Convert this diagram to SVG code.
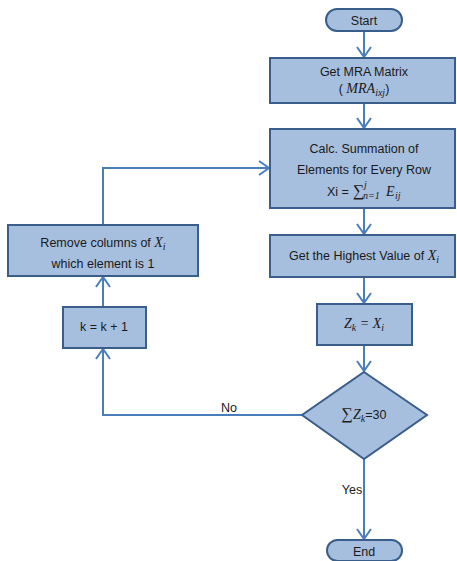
<svg xmlns="http://www.w3.org/2000/svg" width="457" height="561" viewBox="0 0 457 561">
<style>
.n{fill:#A7BFDE;stroke:#3A5E8C;stroke-width:2}
.c{fill:none;stroke:#4A7EBB;stroke-width:2}
text{font-family:"Liberation Sans",Arial,sans-serif;font-size:12.5px;fill:#1a1a1a;text-anchor:middle}
.l{text-anchor:start}
.m{font-family:"Liberation Serif","Times New Roman",serif;font-style:italic;font-size:14px}
.s{font-family:"Liberation Serif","Times New Roman",serif;font-style:italic;font-size:10px}
.r{font-family:"Liberation Serif","Times New Roman",serif;font-size:16px}
</style>
<defs>
<marker id="a" markerUnits="userSpaceOnUse" orient="auto" refX="0" refY="0" markerWidth="20" markerHeight="20" viewBox="-12 -10 14 20" overflow="visible">
<path d="M-10,-7 L0,0 L-10,7" fill="none" stroke="#4A7EBB" stroke-width="2"/>
</marker>
</defs>
<g id="connectors">
<path class="c" d="M364,31 V57" marker-end="url(#a)"/>
<path class="c" d="M364,103 V128" marker-end="url(#a)"/>
<path class="c" d="M364,208 V234" marker-end="url(#a)"/>
<path class="c" d="M364,277 V303" marker-end="url(#a)"/>
<path class="c" d="M364,345 V371" marker-end="url(#a)"/>
<path class="c" d="M364,459 V539" marker-end="url(#a)"/>
<path class="c" d="M302,415 H103 V349" marker-end="url(#a)"/>
<path class="c" d="M103,307 V277" marker-end="url(#a)"/>
<path class="c" d="M103,225 V168 H269" marker-end="url(#a)"/>
<text x="229" y="412">No</text>
<text x="352" y="494">Yes</text>
</g>
<g id="start">
<rect class="n" x="326" y="9" width="76" height="22" rx="11"/>
<text x="364" y="24.5">Start</text>
</g>
<g id="getmra">
<rect class="n" x="270" y="58" width="185" height="45"/>
<text x="364" y="76">Get MRA Matrix</text>
<text x="364" y="93">(<tspan class="m"> MRA</tspan><tspan class="s" dy="3">ixj</tspan><tspan dy="-3">)</tspan></text>
</g>
<g id="calc">
<rect class="n" x="270" y="129" width="185" height="79"/>
<text x="364" y="153">Calc. Summation of</text>
<text x="364" y="174">Elements for Every Row</text>
<text class="l" x="327" y="196">Xi =</text>
<text class="l r" x="353" y="196">∑</text>
<text class="l s" x="364" y="188">j</text>
<text class="l s" x="363" y="199">n=1</text>
<text class="l m" x="386" y="196">E</text>
<text class="l s" x="395" y="199">ij</text>
</g>
<g id="highest">
<rect class="n" x="270" y="235" width="185" height="42"/>
<text x="364" y="260">Get the Highest Value of <tspan class="m">X</tspan><tspan class="s" dy="3">i</tspan></text>
</g>
<g id="zk">
<rect class="n" x="317" y="304" width="95" height="41"/>
<text x="364" y="328"><tspan class="m">Z</tspan><tspan class="s" dy="3">k</tspan><tspan class="m" dy="-3"> =  X</tspan><tspan class="s" dy="3">i</tspan></text>
</g>
<g id="decision">
<polygon class="n" points="364,372 427,415 364,459 302,415"/>
<text x="364" y="419"><tspan class="r">∑</tspan><tspan class="m">Z</tspan><tspan class="s" dy="3">k</tspan><tspan dy="-3">=30</tspan></text>
</g>
<g id="end">
<rect class="n" x="327" y="540" width="75" height="21" rx="10.5"/>
<text x="364" y="556">End</text>
</g>
<g id="remove">
<rect class="n" x="8" y="225" width="190" height="51"/>
<text x="103" y="247">Remove columns of <tspan class="m">X</tspan><tspan class="s" dy="3">i</tspan></text>
<text x="103" y="268">which element is 1</text>
</g>
<g id="kinc">
<rect class="n" x="63" y="307" width="83" height="41"/>
<text x="104" y="331">k = k + 1</text>
</g>
</svg>
